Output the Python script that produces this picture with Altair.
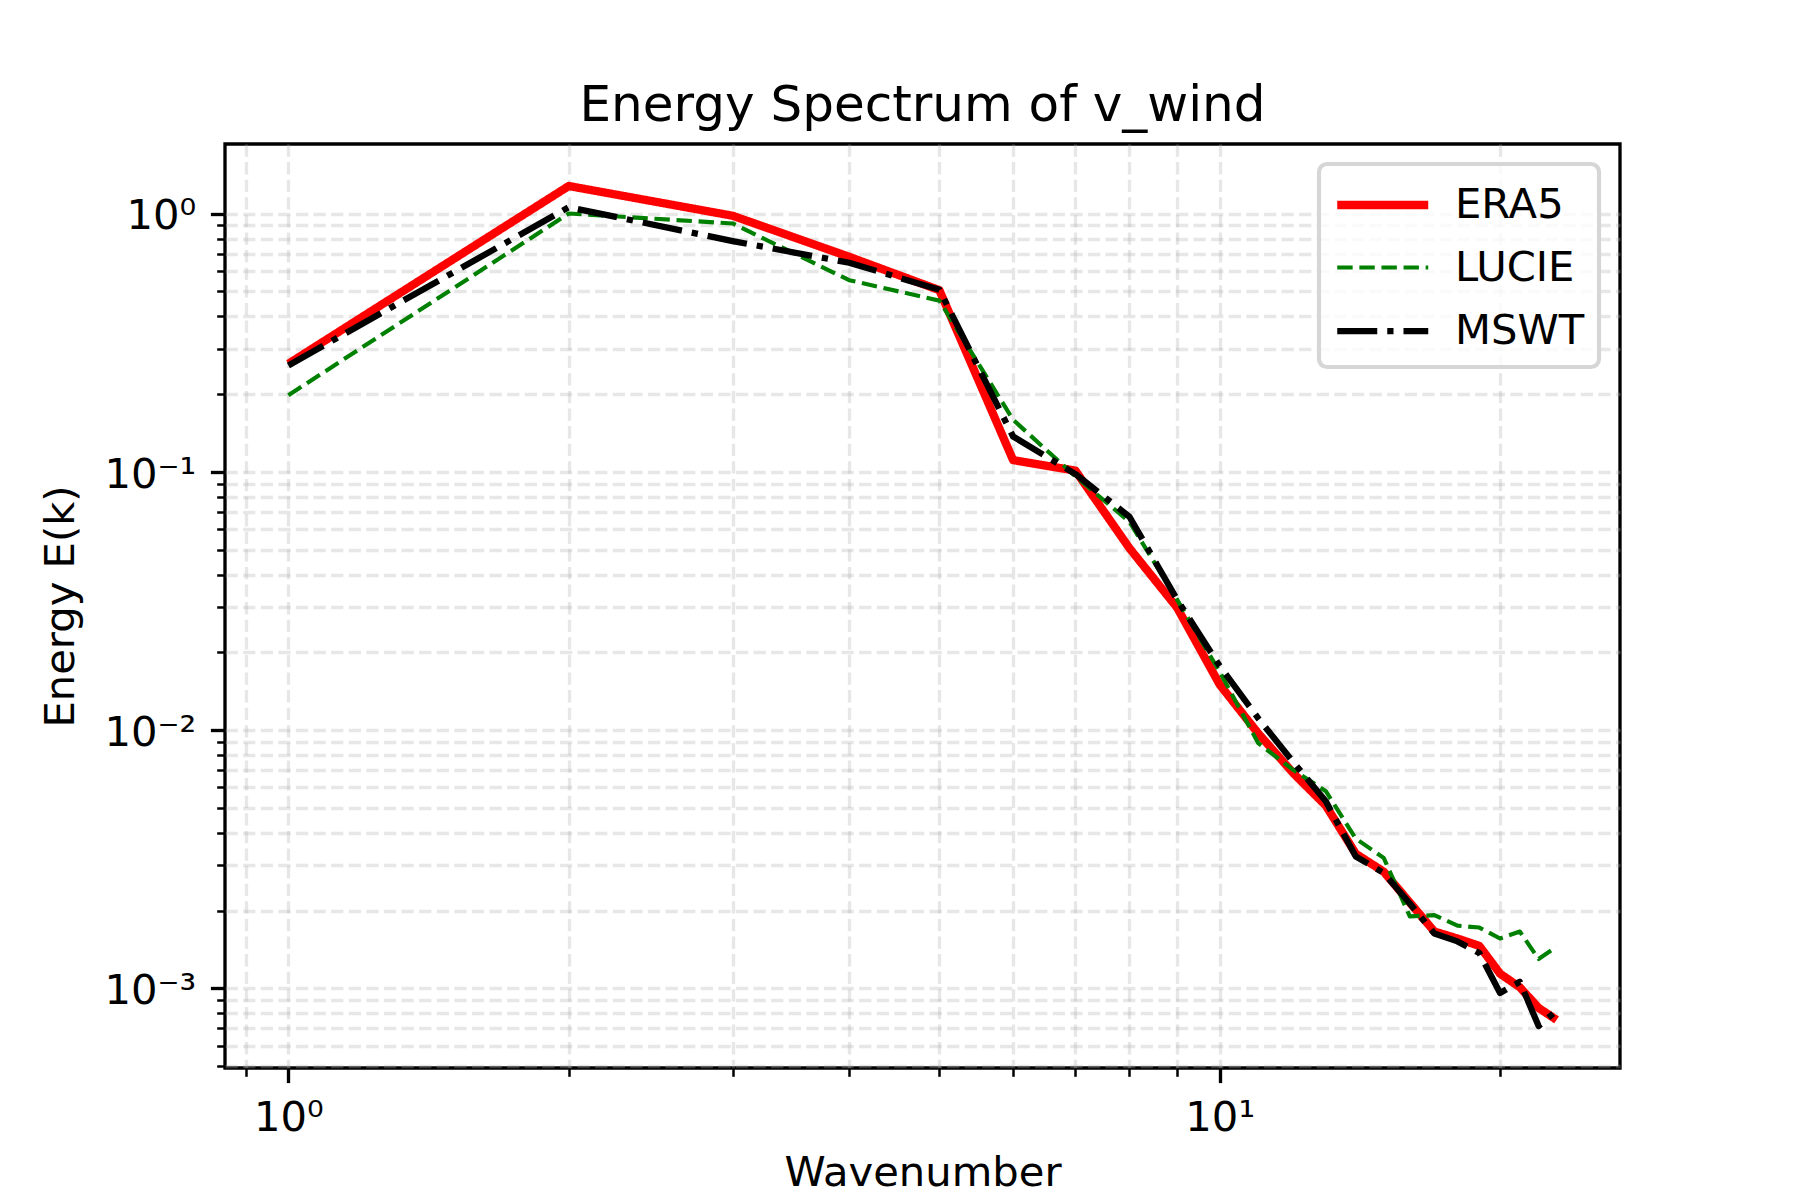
import math
import altair as alt
import pandas as pd

# ---- data ----
wavenumber = list(range(1, 24))
era5 = [0.262, 1.278, 0.98, 0.68, 0.505, 0.111, 0.101, 0.0506, 0.0298, 0.0150,
        0.0097, 0.0068, 0.0051, 0.00332, 0.00283, 0.00215, 0.00166, 0.00156,
        0.00146, 0.00114, 0.00101, 0.00084, 0.000755]
lucie = [0.198, 1.0, 0.915, 0.552, 0.46, 0.159, 0.096, 0.064, 0.032, 0.0168,
         0.0089, 0.0070, 0.0058, 0.0038, 0.0032, 0.0019, 0.00192, 0.00175,
         0.00172, 0.00156, 0.00166, 0.0013, 0.00145]
mswt = [0.258, 1.058, 0.782, 0.645, 0.507, 0.137, 0.098, 0.067, 0.032, 0.0177,
        0.0111, 0.0075, 0.0053, 0.00324, 0.0028, 0.00213, 0.00163, 0.00152,
        0.00137, 0.00096, 0.00106, 0.000715, 0.00082]

series_names = ["ERA5", "LUCIE", "MSWT"]
series_values = [era5, lucie, mswt]

x_major = [1, 10]
x_minor = [0.9, 2, 3, 4, 5, 6, 7, 8, 9, 20]
y_major = [1e-3, 1e-2, 1e-1, 1]
y_minor_mult = [2, 3, 4, 5, 6, 7, 8, 9]

# ---- styles ----
colors = ["#ff0000", "#008000", "#000000"]
widths = [8.33, 4.17, 6.25]
dashes = [[1, 0], [15.4, 6.7], [40, 10, 6.25, 10]]
FONT = "DejaVu Sans"

rows = []
for name, vals in zip(series_names, series_values):
    for kk, v in zip(wavenumber, vals):
        rows.append({"k": kk, "E": v, "series": name})
df = pd.DataFrame(rows)

# matplotlib-like 5% margins in log space
def log_domain(lo, hi, m=0.05):
    a, b = math.log10(lo), math.log10(hi)
    r = b - a
    return [10 ** (a - m * r), 10 ** (b + m * r)]

all_vals = era5 + lucie + mswt
x_dom = log_domain(min(wavenumber), max(wavenumber))
y_dom = log_domain(min(all_vals), max(all_vals))

x_ticks = sorted(x_major + [v for v in x_minor if x_dom[0] <= v <= x_dom[1]])
y_ticks = sorted(y_major + [m * 10 ** e for e in range(-4, 1) for m in y_minor_mult
                            if y_dom[0] <= m * 10 ** e <= y_dom[1]])

MAJ = "abs(log(datum.value)/LN10 - round(log(datum.value)/LN10)) < 0.001"

x_label_expr = "datum.value == 1 ? '10⁰' : (datum.value == 10 ? '10¹' : '')"
y_label_expr = ("(" + MAJ + ") ? ['10⁰','10⁻¹','10⁻²','10⁻³'][-round(log(datum.value)/LN10)] : ''")

W, H = 1395, 924

common_axis = dict(
    grid=True,
    gridColor="#b0b0b0",
    gridOpacity=0.3,
    gridDash=[12.3, 5.3],
    gridWidth=3.33,
    domain=False,
    tickColor="black",
    tickSize={"condition": {"test": MAJ, "value": 14.6}, "value": 8.3},
    tickWidth={"condition": {"test": MAJ, "value": 3.33}, "value": 2.5},
    labelFont=FONT,
    labelFontSize=41.7,
    labelColor="black",
    labelOverlap=False,
    labelFlush=False,
    labelBound=False,
    titleFont=FONT,
    titleFontSize=41.7,
    titleFontWeight="normal",
    titleColor="black",
)

x_axis = alt.Axis(
    values=x_ticks,
    labelExpr=x_label_expr,
    labelBaseline="alphabetic",
    labelPadding=47.4,
    title="Wavenumber",
    titleX=W / 2,
    titleY=117,
    titleAlign="center",
    titleBaseline="alphabetic",
    **common_axis,
)
y_axis = alt.Axis(
    values=y_ticks,
    labelExpr=y_label_expr,
    labelBaseline="alphabetic",
    labelOffset=15.2,
    labelPadding=14.6,
    title="Energy E(k)",
    titleX=-165,
    titleY=H / 2,
    titleAngle=270,
    titleAlign="center",
    titleBaseline="middle",
    **common_axis,
)

SYM = 2070  # sqrt = 45.5, custom path spans 2*sqrt

legend = alt.Legend(
    orient="none",
    legendX=1094,
    legendY=20,
    symbolType="M-1,0L3,0",
    symbolSize=SYM,
    labelFont=FONT,
    labelFontSize=41.7,
    labelColor="black",
    labelOffset=68,
    labelLimit=0,
    padding=14,
    rowPadding=15.5,
    fillColor="rgba(255,255,255,0.8)",
    strokeColor="#d6d6d6",
    cornerRadius=8,
)

chart = (
    alt.Chart(df)
    .mark_line(strokeJoin="round")
    .encode(
        x=alt.X("k:Q", scale=alt.Scale(type="log", domain=x_dom, nice=False, zero=False), axis=x_axis),
        y=alt.Y("E:Q", scale=alt.Scale(type="log", domain=y_dom, nice=False, zero=False), axis=y_axis),
        color=alt.Color("series:N", scale=alt.Scale(domain=series_names, range=colors),
                        legend=legend, title=None),
        strokeDash=alt.StrokeDash("series:N", scale=alt.Scale(domain=series_names, range=dashes),
                                  legend=legend, title=None),
        strokeWidth=alt.StrokeWidth("series:N",
                                    scale=alt.Scale(type="ordinal", domain=series_names, range=widths),
                                    legend=legend, title=None),
    )
    .properties(
        width=W,
        height=H,
        title=alt.TitleParams(
            "Energy Spectrum of v_wind",
            font=FONT,
            fontSize=50,
            fontWeight="normal",
            color="black",
            anchor="middle",
            frame="group",
            offset=13,
        ),
        autosize=alt.AutoSizeParams(type="none"),
        padding={"left": 217, "top": 136, "right": 150, "bottom": 140},
        background="white",
    )
    .configure_view(stroke="black", strokeWidth=3.33)
    .configure_legend(strokeWidth=4.17)
)

chart.save("out.html", embed_options={"renderer": "svg", "actions": False})
